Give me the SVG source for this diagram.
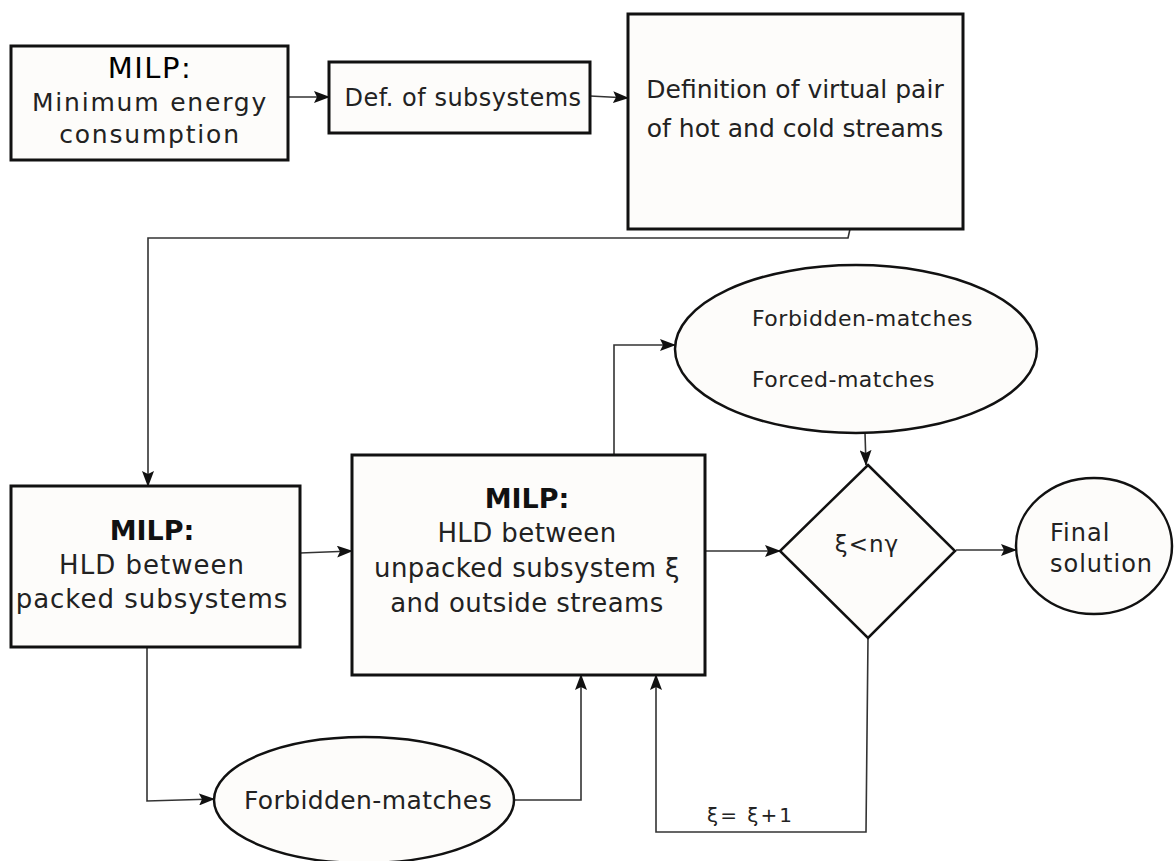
<svg xmlns="http://www.w3.org/2000/svg" width="1174" height="861" viewBox="0 0 1174 861">
<style>
.node{fill:#fdfcfa;stroke:#111;stroke-width:3}
.conn{fill:none;stroke:#333;stroke-width:1.6}
text{font-family:"DejaVu Sans","Liberation Sans",sans-serif;fill:#222;text-anchor:middle}
.t{font-size:26px}
.h{font-size:29px;letter-spacing:1.5px;fill:#000}
.hb{font-size:27px;font-weight:bold;fill:#111}
.s{font-size:22px;letter-spacing:0.5px;text-anchor:start}
</style>
<defs>
<marker id="ah" markerWidth="16" markerHeight="12" refX="15" refY="6" orient="auto" markerUnits="userSpaceOnUse">
<path d="M0,0 L16,6 L0,12 L3,6 Z" fill="#111"/>
</marker>
</defs>
<rect width="1174" height="861" fill="#fff"/>
<g id="connectors">
<path class="conn" d="M288,97 H329" marker-end="url(#ah)"/>
<path class="conn" d="M590,96 L628,98" marker-end="url(#ah)"/>
<path class="conn" d="M850,229 L848,238 H148 V486" marker-end="url(#ah)"/>
<path class="conn" d="M300,553 L352,551" marker-end="url(#ah)"/>
<path class="conn" d="M614,455 V345 H675" marker-end="url(#ah)"/>
<path class="conn" d="M865,433 L866,465" marker-end="url(#ah)"/>
<path class="conn" d="M705,551 H780" marker-end="url(#ah)"/>
<path class="conn" d="M956,550 H1016" marker-end="url(#ah)"/>
<path class="conn" d="M868,638 L866,832 H656 V675" marker-end="url(#ah)"/>
<path class="conn" d="M147,647 V801 L214,799" marker-end="url(#ah)"/>
<path class="conn" d="M514,800 H581 V675" marker-end="url(#ah)"/>
<text x="707" y="822" style="font-size:20px;letter-spacing:2px;text-anchor:start">ξ= ξ+1</text>
</g>
<g id="n1">
<rect class="node" x="11" y="46" width="277" height="114"/>
<text class="h" x="150" y="78">MILP:</text>
<text class="t" x="150" y="111" style="font-size:25px;letter-spacing:1.8px">Minimum energy</text>
<text class="t" x="150" y="143" style="font-size:25px;letter-spacing:1.8px">consumption</text>
</g>
<g id="n2">
<rect class="node" x="329" y="62" width="261" height="71"/>
<text class="t" x="463" y="106" style="font-size:24px;letter-spacing:0.5px">Def. of subsystems</text>
</g>
<g id="n3">
<rect class="node" x="628" y="14" width="335" height="215"/>
<text class="t" x="795" y="98" style="font-size:25px">Definition of virtual pair</text>
<text class="t" x="795" y="137" style="font-size:25px">of hot and cold streams</text>
</g>
<g id="n4">
<rect class="node" x="11" y="486" width="289" height="161"/>
<text class="hb" x="152" y="540">MILP:</text>
<text class="t" x="152" y="574" style="letter-spacing:1px">HLD between</text>
<text class="t" x="152" y="608" style="letter-spacing:1px">packed subsystems</text>
</g>
<g id="n5">
<rect class="node" x="352" y="455" width="353" height="220"/>
<text class="hb" x="527" y="508">MILP:</text>
<text class="t" x="527" y="542" style="letter-spacing:0.4px">HLD between</text>
<text class="t" x="527" y="577" style="letter-spacing:0.4px">unpacked subsystem ξ</text>
<text class="t" x="527" y="612" style="letter-spacing:0.4px">and outside streams</text>
</g>
<g id="n6">
<ellipse class="node" cx="856" cy="349" rx="181" ry="84" style="stroke-width:2.5"/>
<text class="s" x="752" y="326">Forbidden-matches</text>
<text class="s" x="752" y="387">Forced-matches</text>
</g>
<g id="n7">
<path class="node" d="M868,465 L955,551 L868,638 L780,551 Z" style="stroke-width:2.5"/>
<text x="867" y="552" style="font-size:23px;letter-spacing:1px">ξ&lt;nγ</text>
</g>
<g id="n8">
<ellipse class="node" cx="1094" cy="546" rx="78" ry="68" style="stroke-width:2.5"/>
<text x="1050" y="541" style="font-size:24px;letter-spacing:1px;text-anchor:start">Final</text>
<text x="1050" y="572" style="font-size:24px;letter-spacing:1px;text-anchor:start">solution</text>
</g>
<g id="n9">
<ellipse class="node" cx="364" cy="800" rx="150" ry="63" style="stroke-width:2.5"/>
<text x="368" y="809" style="font-size:25px;letter-spacing:0.4px">Forbidden-matches</text>
</g>
</svg>
